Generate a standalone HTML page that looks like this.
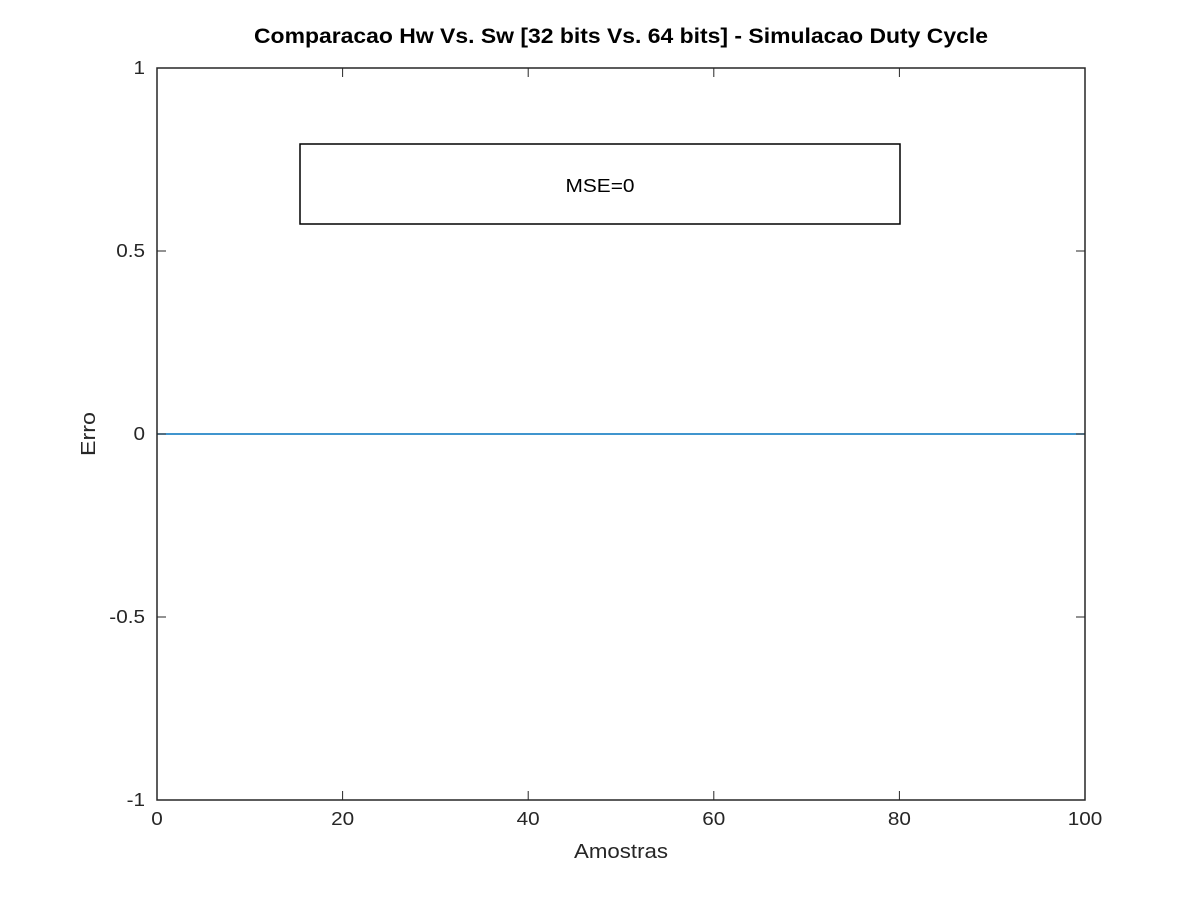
<!DOCTYPE html>
<html><head><meta charset="utf-8"><style>
html,body{margin:0;padding:0;background:#fff;}
svg{display:block;font-family:"Liberation Sans",sans-serif;}
</style></head><body>
<svg id="chart" width="1200" height="900"></svg>
<script>
const xTicks=[0,20,40,60,80,100];
const xTickLabels=["0","20","40","60","80","100"];
const yTicks=[-1,-0.5,0,0.5,1];
const yTickLabels=["-1","-0.5","0","0.5","1"];
const samples=[0,10,20,30,40,50,60,70,80,90,100];
const errors=[0,0,0,0,0,0,0,0,0,0,0];
const mseText="MSE=0";
const NS="http://www.w3.org/2000/svg";
const svg=document.getElementById('chart');
const L=157,R=1085,T=68,B=800;
const sx=v=>L+(v-0)/(100-0)*(R-L);
const sy=v=>B-(v+1)/2*(B-T);
function mk(tag,attrs,parent){const e=document.createElementNS(NS,tag);for(const k in attrs)e.setAttribute(k,attrs[k]);(parent||svg).appendChild(e);return e;}
function widen(e,f){try{const w=e.getComputedTextLength();e.setAttribute('textLength',w*f);e.setAttribute('lengthAdjust','spacingAndGlyphs');}catch(err){}}
const axes=mk('rect',{x:L,y:T,width:R-L,height:B-T,fill:'#fff',stroke:'none'});


const pts=samples.map((s,i)=>sx(s)+','+sy(errors[i])).join(' ');
const line=mk('polyline',{points:pts,fill:'none',stroke:'#0072bd',"stroke-width":1.5});


xTicks.forEach((v,i)=>{
 const x=sx(v);
 const t1=mk('line',{x1:x,y1:B,x2:x,y2:B-9,stroke:'#262626'});
 
 
 const t2=mk('line',{x1:x,y1:T,x2:x,y2:T+9,stroke:'#262626'});
 
 
 const tl=mk('text',{x:x,y:B+25,"text-anchor":"middle","font-size":18,fill:'#262626'});
 tl.textContent=xTickLabels[i];
 
 
 widen(tl,1.15);
});
yTicks.forEach((v,i)=>{
 const y=sy(v);
 const t1=mk('line',{x1:L,y1:y,x2:L+9,y2:y,stroke:'#262626'});
 
 
 const t2=mk('line',{x1:R,y1:y,x2:R-9,y2:y,stroke:'#262626'});
 
 
 const tl=mk('text',{x:L-12,y:y+6,"text-anchor":"end","font-size":18,fill:'#262626'});
 tl.textContent=yTickLabels[i];
 
 
 widen(tl,1.15);
});
const frame=mk('rect',{x:L,y:T,width:R-L,height:B-T,fill:'none',stroke:'#262626',"stroke-width":1.5});


const box=mk('rect',{x:300,y:144,width:600,height:80,fill:'#fff',stroke:'#000',"stroke-width":1.5});


const mt=mk('text',{x:600,y:192,"text-anchor":"middle","font-size":18,fill:'#000',textLength:69,lengthAdjust:'spacingAndGlyphs'});
mt.textContent=mseText;


const title=mk('text',{x:621,y:43,"text-anchor":"middle","font-size":21,"font-weight":"bold",fill:'#000',textLength:734,lengthAdjust:'spacingAndGlyphs'});
title.textContent="Comparacao Hw Vs. Sw [32 bits Vs. 64 bits] - Simulacao Duty Cycle";


const xl=mk('text',{x:621,y:858,"text-anchor":"middle","font-size":20,fill:'#262626',textLength:94,lengthAdjust:'spacingAndGlyphs'});
xl.textContent="Amostras";


const yl=mk('text',{x:0,y:0,"text-anchor":"middle","font-size":20,fill:'#262626',transform:'translate(95,434) rotate(-90)',textLength:44,lengthAdjust:'spacingAndGlyphs'});
yl.textContent="Erro";


</script>
</body></html>
